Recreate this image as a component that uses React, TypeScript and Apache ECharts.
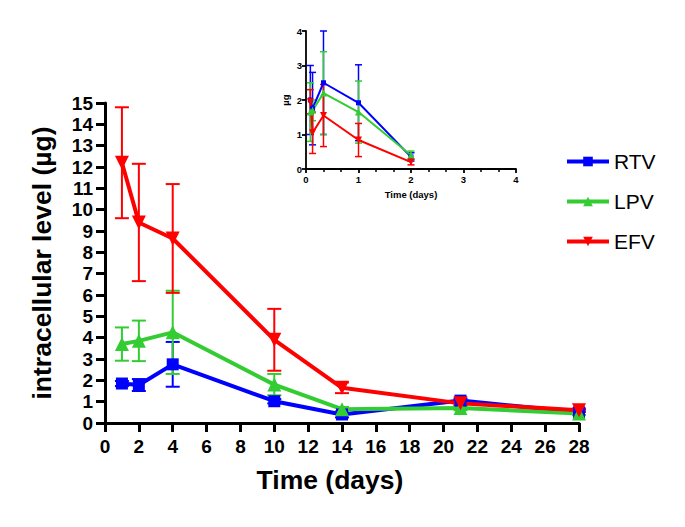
import React, { useEffect, useRef } from "react";
import * as echarts from "echarts";

const seriesNames = ["RTV", "LPV", "EFV"];
const seriesColors = ["#0000ff", "#33cc33", "#ff0000"];

const mainDays = [1, 2, 4, 10, 14, 21, 28];
const rtvMain = [1.85, 1.78, 2.75, 1.02, 0.4, 1.05, 0.5];
const rtvMainSd = [0.12, 0.28, 1.05, 0.1, 0.14, 0.1, 0.12];
const lpvMain = [3.7, 3.85, 4.25, 1.8, 0.65, 0.7, 0.45];
const lpvMainSd = [0.78, 0.95, 1.95, 0.5, 0.1, 0.1, 0.08];
const efvMain = [12.2, 9.4, 8.65, 3.9, 1.65, 0.92, 0.6];
const efvMainSd = [2.6, 2.75, 2.55, 1.45, 0.25, 0.08, 0.08];

const insetDays = [0.083, 0.125, 0.333, 1, 2];
const rtvInset = [2.0, 1.75, 2.5, 1.92, 0.35];
const rtvInsetSd = [1.0, 1.05, 1.5, 1.1, 0.12];
const lpvInset = [1.65, 1.7, 2.2, 1.65, 0.4];
const lpvInsetSd = [0.85, 0.3, 1.2, 0.9, 0.12];
const efvInset = [1.95, 1.05, 1.55, 0.84, 0.2];
const efvInsetSd = [0.35, 0.6, 0.9, 0.48, 0.08];

const FONT = "Liberation Sans";

const symbols = ["rect", "triangle", "triangle"];
const rotations = [0, 0, 180];

function buildSeries(
  gridIdx: number,
  days: number[],
  vals: number[][],
  sds: number[][],
  lineW: number,
  symSize: number,
  capW: number,
  errW: number
) {
  const out: any[] = [];
  vals.forEach((v, k) => {
    const color = seriesColors[k];
    out.push({
      type: "custom",
      name: seriesNames[k] + " SD " + gridIdx,
      xAxisIndex: gridIdx,
      yAxisIndex: gridIdx,
      clip: false,
      silent: true,
      itemStyle: { color },
      data: days.map((d, i) => [d, v[i], sds[k][i]]),
      renderItem: (params: any, api: any) => {
        const x = api.value(0);
        const y = api.value(1);
        const sd = api.value(2);
        const top = api.coord([x, y + sd]);
        const bot = api.coord([x, y - sd]);
        const st = { stroke: color, lineWidth: errW };
        return {
          type: "group",
          children: [
            { type: "line", shape: { x1: top[0], y1: top[1], x2: bot[0], y2: bot[1] }, style: st },
            { type: "line", shape: { x1: top[0] - capW / 2, y1: top[1], x2: top[0] + capW / 2, y2: top[1] }, style: st },
            { type: "line", shape: { x1: bot[0] - capW / 2, y1: bot[1], x2: bot[0] + capW / 2, y2: bot[1] }, style: st },
          ],
        };
      },
    });
    out.push({
      type: "line",
      name: gridIdx === 0 ? seriesNames[k] : seriesNames[k] + " inset",
      xAxisIndex: gridIdx,
      yAxisIndex: gridIdx,
      data: days.map((d, i) => [d, v[i]]),
      symbol: symbols[k],
      symbolRotate: rotations[k],
      symbolSize: k === 0 ? symSize : symSize + 2,
      showSymbol: true,
      lineStyle: { color, width: lineW },
      itemStyle: { color },
      clip: false,
    });
  });
  return out;
}

export default function App() {
  const ref = useRef<HTMLDivElement>(null);
  useEffect(() => {
    if (!ref.current) return;
    const chart = echarts.init(ref.current, undefined, { renderer: "svg" });
    const axisCommon = (w: number, tickLen: number, fs: number, margin: number) => ({
      axisLine: { show: true, onZero: false, lineStyle: { color: "#000", width: w } },
      axisTick: { show: true, length: tickLen, lineStyle: { color: "#000", width: w } },
      axisLabel: { color: "#000", fontFamily: FONT, fontWeight: "bold", fontSize: fs, margin },
      splitLine: { show: false },
    });
    chart.setOption({
      animation: false,
      backgroundColor: "#fff",
      legend: {
        orient: "vertical",
        left: 560,
        top: 146,
        itemWidth: 42,
        itemHeight: 12,
        itemGap: 19,
        data: seriesNames,
        lineStyle: { width: 4 },
        textStyle: { fontFamily: FONT, fontSize: 21, color: "#000" },
      },
      grid: [
        { left: 105, right: 106, top: 103, bottom: 104, containLabel: false },
        { left: 306, right: 169, top: 31, bottom: 358, containLabel: false },
      ],
      xAxis: [
        {
          type: "value",
          gridIndex: 0,
          min: 0,
          max: 28,
          interval: 2,
          name: "Time (days)",
          nameLocation: "middle",
          nameGap: 43,
          nameTextStyle: {
            fontFamily: FONT,
            fontWeight: "bold",
            fontSize: 26.5,
            color: "#000",
            padding: [0, 24, 0, 0],
          },
          ...axisCommon(3, 9, 19, 14),
        },
        {
          type: "value",
          gridIndex: 1,
          min: 0,
          max: 4,
          interval: 1,
          name: "Time (days)",
          nameLocation: "middle",
          nameGap: 20,
          nameTextStyle: { fontFamily: FONT, fontWeight: "bold", fontSize: 9.5, color: "#000" },
          minorTick: { show: true, splitNumber: 3, length: 3, lineStyle: { color: "#000", width: 1.5 } },
          ...axisCommon(1.8, 4, 9.5, 5),
        },
      ],
      yAxis: [
        {
          type: "value",
          gridIndex: 0,
          min: 0,
          max: 15,
          interval: 1,
          name: "intracellular level (µg)",
          nameLocation: "middle",
          nameGap: 50,
          nameTextStyle: { fontFamily: FONT, fontWeight: "bold", fontSize: 26.5, color: "#000" },
          ...axisCommon(3, 9, 19, 12),
        },
        {
          type: "value",
          gridIndex: 1,
          min: 0,
          max: 4,
          interval: 1,
          name: "µg",
          nameLocation: "middle",
          nameGap: 16,
          nameTextStyle: { fontFamily: FONT, fontWeight: "bold", fontSize: 9.5, color: "#000" },
          ...axisCommon(1.8, 4, 9.5, 4),
        },
      ],
      series: [
        ...buildSeries(0, mainDays, [rtvMain, lpvMain, efvMain], [rtvMainSd, lpvMainSd, efvMainSd], 4, 12, 14, 2),
        ...buildSeries(1, insetDays, [rtvInset, lpvInset, efvInset], [rtvInsetSd, lpvInsetSd, efvInsetSd], 2, 5, 7, 1.5),
      ],
    });
    return () => chart.dispose();
  }, []);
  return (
    <div
      ref={ref}
      style={{ position: "fixed", left: 0, top: 0, width: 685, height: 527, background: "#fff" }}
    />
  );
}
